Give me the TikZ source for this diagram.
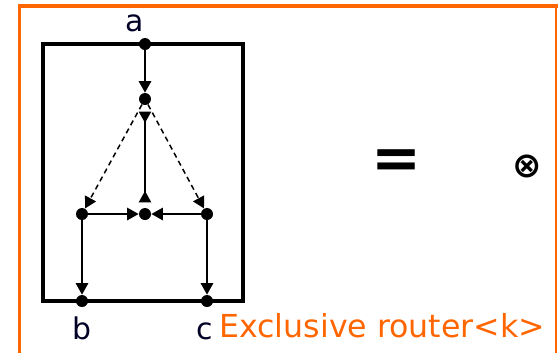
\documentclass[tikz,border=0pt]{standalone}
\usepackage{fontspec}
\setmainfont{DejaVu Sans}
\usepackage{tikz}
\usetikzlibrary{positioning,arrows.meta}
\definecolor{routerorange}{RGB}{255,102,0}

\begin{document}
\begin{tikzpicture}[x=0.02cm,y=-0.02cm,
  dot/.style={circle,fill=black,inner sep=0pt,minimum size=0.24cm},
  arr/.style={-{Triangle[length=6.5pt,width=7pt]},line width=0.85pt},
  darr/.style={arr,dash pattern=on 3pt off 2.2pt},
  lbl/.style={font=\fontsize{17}{20}\selectfont,text=black!85!blue}
]
\useasboundingbox (0,0) rectangle (558,353);
% frame
\draw[routerorange,line width=2pt] (19.5,353) -- (19.5,6) -- (558,6);
\draw[routerorange,line width=0.8pt] (556,6) -- (556,353);
\draw[line width=2.3pt] (43,44) rectangle (243,301);

\node[dot] (a) at (145,44) {};
\node[dot] (split) at (145,99) {};
\node[dot] (ctr) at (145,214) {};
\node[dot] (left) at (82,214) {};
\node[dot] (right) at (207,214) {};
\node[dot] (b) at (82,301) {};
\node[dot] (c) at (207,301) {};

\node[lbl] (la) at (135,23) {a};
\node[lbl] (lb) at (82,328) {b};
\node[lbl] (lc) at (205,331) {c};

\draw[arr] (a) -- (split);
\draw[arr,{Triangle[reversed,length=6.5pt,width=7pt]}-{Triangle[reversed,length=6.5pt,width=7pt]},
      shorten <=3.5pt,shorten >=3pt] (split) -- (ctr);
\draw[darr] (split) -- (left);
\draw[darr] (split) -- (right);
\draw[arr] (left) -- (ctr);
\draw[arr] (right) -- (ctr);
\draw[arr] (left) -- (b);
\draw[arr] (right) -- (c);

\node (eq) at (397,164) {\fontsize{34}{36}\selectfont\bfseries =};
\node (ot) at (527,166) {\fontsize{20}{22}\selectfont\bfseries ⊗};
\node[anchor=base west,text=routerorange,inner sep=0pt] (title) at (219,337)
  {\fontsize{18}{21}\selectfont Exclusive router<k>};
\end{tikzpicture}
\end{document}
